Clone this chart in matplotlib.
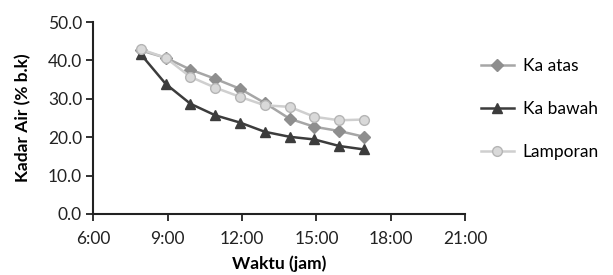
import matplotlib
matplotlib.use("Agg")
import matplotlib.pyplot as plt
from matplotlib.ticker import FuncFormatter, MultipleLocator

plt.rcParams['font.family'] = ['Lato', 'DejaVu Sans']

# jam pengamatan (desimal)
jam = [7.92, 8.92, 9.92, 10.92, 11.92, 12.92, 13.92, 14.92, 15.92, 16.92]

ka_atas = [42.6, 40.7, 37.6, 35.2, 32.6, 28.9, 24.8, 22.7, 21.6, 20.1]
ka_bawah = [41.6, 33.9, 28.7, 25.7, 23.8, 21.4, 20.1, 19.4, 17.7, 16.8]
lamporan = [42.9, 40.7, 35.7, 32.9, 30.5, 28.3, 27.9, 25.3, 24.4, 24.6]

fig = plt.figure(figsize=(6.13, 2.75), dpi=100)
ax = fig.add_axes([0.152, 0.222, 0.607, 0.698])

ax.plot(jam, ka_atas, '-D', color='#a6a6a6', mfc='#8e8e8e', mec='#8e8e8e',
        lw=1.8, ms=6, label='Ka atas')
ax.plot(jam, ka_bawah, '-^', color='#3c3c3c', mfc='#3c3c3c', mec='#3c3c3c',
        lw=1.8, ms=7, label='Ka bawah')
ax.plot(jam, lamporan, '-o', color='#cfcfcf', mfc='#d9d9d9', mec='#b5b5b5',
        lw=1.8, ms=7, label='Lamporan')

ax.set_xlim(6, 21)
ax.set_ylim(0, 50)
ax.xaxis.set_major_locator(MultipleLocator(3))
ax.yaxis.set_major_locator(MultipleLocator(10))
ax.xaxis.set_major_formatter(FuncFormatter(lambda v, p: f"{int(v)}:00"))
ax.yaxis.set_major_formatter(FuncFormatter(lambda v, p: f"{v:.1f}"))

for s in ['top', 'right']:
    ax.spines[s].set_visible(False)
for s in ['left', 'bottom']:
    ax.spines[s].set_linewidth(1.5)
    ax.spines[s].set_color('#222222')
ax.tick_params(direction='out', length=5, width=1.3, labelsize=12.5,
               colors='#222222', pad=3)
ax.tick_params(axis='x', pad=7)

ax.set_xlabel('Waktu (jam)', fontsize=12.5, fontweight='bold', labelpad=6)
ax.set_ylabel('Kadar Air (% b.k)', fontsize=12.5, fontweight='bold', labelpad=12)

fig.legend(loc='upper left', bbox_to_anchor=(0.759, 0.845), frameon=False,
           fontsize=12.5, labelspacing=1.55, handlelength=1.9, handletextpad=0.5)

fig.savefig('out.png', dpi=100)
